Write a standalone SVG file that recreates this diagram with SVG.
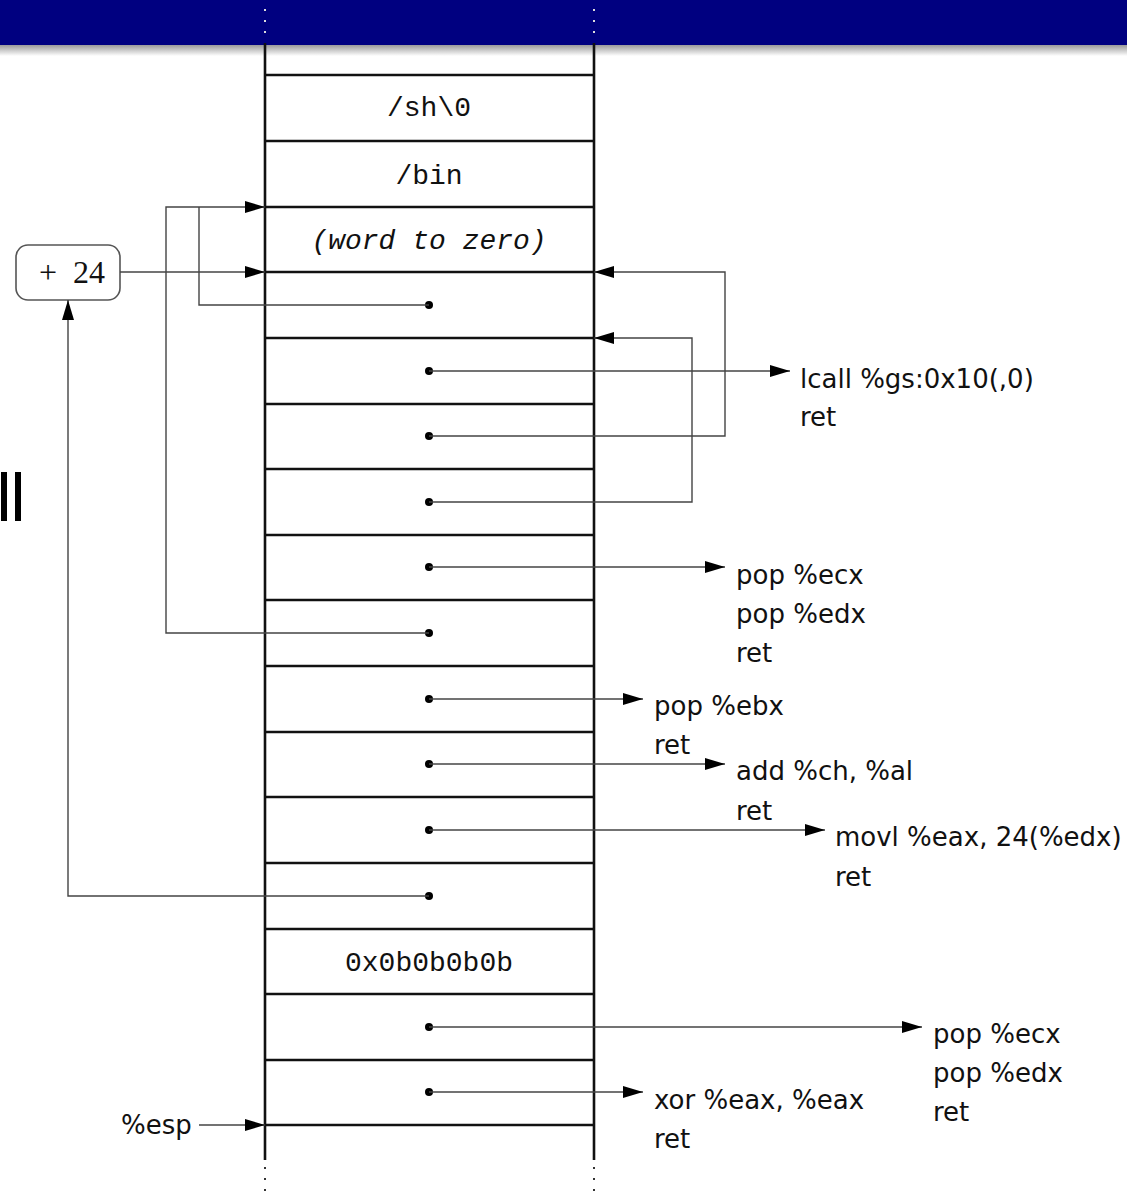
<svg xmlns="http://www.w3.org/2000/svg" width="1127" height="1192" viewBox="0 0 1127 1192">
<defs>
<linearGradient id="shadow" x1="0" y1="0" x2="0" y2="1">
<stop offset="0" stop-color="#9a9a9a"/>
<stop offset="1" stop-color="#ffffff"/>
</linearGradient>
<marker id="ah" viewBox="0 0 20 12" refX="20" refY="6" markerWidth="20" markerHeight="12" markerUnits="userSpaceOnUse" orient="auto">
<path d="M0,0 L20,6 L0,12 Z" fill="#000"/>
</marker>
</defs>
<style>
.stk{stroke:#111;stroke-width:2.6;fill:none}
.con{stroke:#444;stroke-width:1.4;fill:none}
.arr{stroke:#444;stroke-width:1.4;fill:none;marker-end:url(#ah)}
.mono{font-family:"Liberation Mono","DejaVu Sans Mono",monospace;font-size:28px;fill:#111}
.it{font-style:italic}
.sans{font-family:"DejaVu Sans","Liberation Sans",sans-serif;font-size:26px;fill:#111}
.dot{fill:#000}
.vd{stroke:#ddd;stroke-width:2;stroke-dasharray:2 9}
.bd{stroke:#333;stroke-width:2;stroke-dasharray:2 9}
</style>
<rect x="0" y="0" width="1127" height="1192" fill="#fff"/>
<rect x="0" y="45" width="1127" height="11" fill="url(#shadow)"/>
<rect x="0" y="0" width="1127" height="45" fill="#000080"/>
<g id="band-dots">
<line class="vd" x1="265" y1="9" x2="265" y2="36"/>
<line class="vd" x1="594" y1="9" x2="594" y2="36"/>
<line class="bd" x1="265" y1="1167" x2="265" y2="1192"/>
<line class="bd" x1="594" y1="1167" x2="594" y2="1192"/>
</g>
<rect x="1" y="472" width="6" height="49" fill="#000"/>
<rect x="15" y="472" width="6" height="49" fill="#000"/>
<g id="stack">
<line class="stk" x1="265" y1="43" x2="265" y2="1160"/>
<line class="stk" x1="594" y1="43" x2="594" y2="1160"/>
<path class="stk" d="M265,75H594M265,141H594M265,207H594M265,272H594M265,338H594M265,404H594M265,469H594M265,535H594M265,600H594M265,666H594M265,732H594M265,797H594M265,863H594M265,929H594M265,994H594M265,1060H594M265,1125H594"/>
</g>
<g id="cells">
<text class="mono" x="429" y="116" text-anchor="middle">/sh\0</text>
<text class="mono" x="429" y="184" text-anchor="middle">/bin</text>
<text class="mono it" x="429" y="249" text-anchor="middle">(word to zero)</text>
<text class="mono" x="429" y="971" text-anchor="middle">0x0b0b0b0b</text>
</g>
<g id="plus24">
<rect x="16" y="245" width="104" height="55" rx="12" ry="12" fill="#fff" stroke="#555" stroke-width="1.6"/>
<text x="72" y="283" text-anchor="middle" font-family="Liberation Serif, DejaVu Serif, serif" font-size="32" fill="#111" xml:space="preserve">+  24</text>
</g>
<g id="labels">
<text class="sans" x="800" y="388">lcall %gs:0x10(,0)</text>
<text class="sans" x="800" y="426">ret</text>
<text class="sans" x="736" y="584">pop %ecx</text>
<text class="sans" x="736" y="623">pop %edx</text>
<text class="sans" x="736" y="662">ret</text>
<text class="sans" x="654" y="715">pop %ebx</text>
<text class="sans" x="654" y="754">ret</text>
<text class="sans" x="736" y="780">add %ch, %al</text>
<text class="sans" x="736" y="820">ret</text>
<text class="sans" x="835" y="846">movl %eax, 24(%edx)</text>
<text class="sans" x="835" y="886">ret</text>
<text class="sans" x="933" y="1043">pop %ecx</text>
<text class="sans" x="933" y="1082">pop %edx</text>
<text class="sans" x="933" y="1121">ret</text>
<text class="sans" x="654" y="1109">xor %eax, %eax</text>
<text class="sans" x="654" y="1148">ret</text>
<text class="sans" x="121" y="1134">%esp</text>
</g>
<g id="connectors">
<circle class="dot" cx="429" cy="305" r="4"/>
<circle class="dot" cx="429" cy="371" r="4"/>
<circle class="dot" cx="429" cy="436" r="4"/>
<circle class="dot" cx="429" cy="502" r="4"/>
<circle class="dot" cx="429" cy="567" r="4"/>
<circle class="dot" cx="429" cy="633" r="4"/>
<circle class="dot" cx="429" cy="699" r="4"/>
<circle class="dot" cx="429" cy="764" r="4"/>
<circle class="dot" cx="429" cy="830" r="4"/>
<circle class="dot" cx="429" cy="896" r="4"/>
<circle class="dot" cx="429" cy="1027" r="4"/>
<circle class="dot" cx="429" cy="1092" r="4"/>
<path class="con" d="M429,305H199V207"/>
<path class="arr" d="M429,633H166V207H265"/>
<path class="arr" d="M120,272H265"/>
<path class="arr" d="M429,896H68V300"/>
<path class="arr" d="M429,371H790"/>
<path class="arr" d="M429,436H725V272H594"/>
<path class="arr" d="M429,502H692V338H594"/>
<path class="arr" d="M429,567H725"/>
<path class="arr" d="M429,699H643"/>
<path class="arr" d="M429,764H725"/>
<path class="arr" d="M429,830H825"/>
<path class="arr" d="M429,1027H922"/>
<path class="arr" d="M429,1092H643"/>
<path class="arr" d="M199,1125H265"/>
</g>
</svg>
